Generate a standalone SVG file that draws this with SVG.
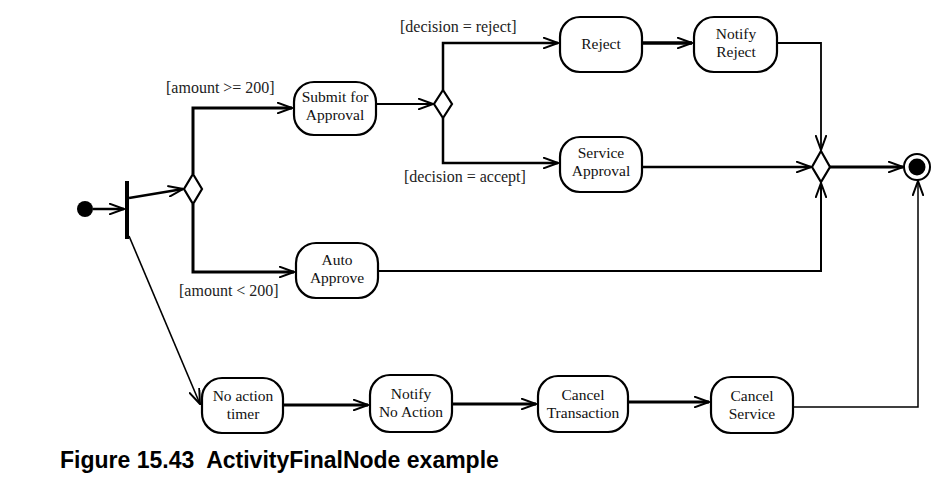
<svg xmlns="http://www.w3.org/2000/svg" width="948" height="486" viewBox="0 0 948 486">
<style>
.node{fill:#fff;stroke:#000;stroke-width:2.2}
.t{font-family:'Liberation Serif','Times New Roman','DejaVu Serif',serif;font-size:15.5px;text-anchor:middle;fill:#111}
.g{font-family:'Liberation Serif','Times New Roman','DejaVu Serif',serif;font-size:16px;fill:#222}
.e{fill:none;stroke:#000}
.cap{font-family:'Liberation Sans',Arial,sans-serif;font-size:23px;font-weight:bold;fill:#000}
</style>
<defs>
<marker id="a" viewBox="0 0 16 12" refX="15" refY="6" markerWidth="16" markerHeight="12" markerUnits="userSpaceOnUse" orient="auto">
<path d="M0,0.5 L15,6 L0,11.5" fill="none" stroke="#000" stroke-width="2"/>
</marker>
</defs>
<rect width="948" height="486" fill="#fff"/>
<g id="initial"><circle cx="85" cy="209" r="8" fill="#000"/></g>
<g id="fork"><rect x="125" y="181" width="4" height="58" fill="#000"/></g>
<g id="decision1"><polygon points="193,174 202,189 193,204 184,189" class="node" stroke-width="2"/></g>
<g id="submit"><rect x="294" y="82" width="82" height="53" rx="20" class="node"/><text class="t" x="335" y="102">Submit for</text><text class="t" x="335" y="120">Approval</text></g>
<g id="auto"><rect x="296" y="243" width="82" height="55" rx="20" class="node"/><text class="t" x="337" y="265">Auto</text><text class="t" x="337" y="283">Approve</text></g>
<g id="decision2"><polygon points="443,90 452,104 443,118 434,104" class="node" stroke-width="2"/></g>
<g id="reject"><rect x="560" y="17" width="82" height="55" rx="20" class="node"/><text class="t" x="601" y="49">Reject</text></g>
<g id="notifyReject"><rect x="694" y="17" width="83" height="55" rx="20" class="node"/><text class="t" x="736" y="39">Notify</text><text class="t" x="736" y="57">Reject</text></g>
<g id="serviceApproval"><rect x="560" y="137" width="82" height="55" rx="20" class="node"/><text class="t" x="601" y="158">Service</text><text class="t" x="601" y="176">Approval</text></g>
<g id="merge"><polygon points="821,151 830,167 821,182 812,167" class="node" stroke-width="2"/></g>
<g id="final"><circle cx="917" cy="167" r="13" fill="#fff" stroke="#000" stroke-width="2"/><circle cx="917" cy="167" r="8.5" fill="#000"/></g>
<g id="noActionTimer"><rect x="202" y="378" width="81" height="55" rx="20" class="node"/><text class="t" x="243" y="401">No action</text><text class="t" x="243" y="419">timer</text></g>
<g id="notifyNoAction"><rect x="370" y="375" width="82" height="57" rx="20" class="node"/><text class="t" x="411" y="399">Notify</text><text class="t" x="411" y="417">No Action</text></g>
<g id="cancelTransaction"><rect x="538" y="376" width="90" height="56" rx="20" class="node"/><text class="t" x="583" y="400">Cancel</text><text class="t" x="583" y="418">Transaction</text></g>
<g id="cancelService"><rect x="711" y="377" width="82" height="56" rx="20" class="node"/><text class="t" x="752" y="401">Cancel</text><text class="t" x="752" y="419">Service</text></g>
<g id="connectors">
<line class="e" x1="93" y1="209" x2="124" y2="209" stroke-width="2.5" marker-end="url(#a)"/>
<line class="e" x1="129" y1="198" x2="183" y2="189" stroke-width="2.5" marker-end="url(#a)"/>
<polyline class="e" points="193,174 193,108 292,108" stroke-width="3" marker-end="url(#a)"/>
<polyline class="e" points="193,204 193,272 294,272" stroke-width="3" marker-end="url(#a)"/>
<line class="e" x1="376" y1="104" x2="433" y2="104" stroke-width="2" marker-end="url(#a)"/>
<polyline class="e" points="443,90 443,43 558,43" stroke-width="2.5" marker-end="url(#a)"/>
<polyline class="e" points="443,118 443,163 558,163" stroke-width="2.5" marker-end="url(#a)"/>
<line class="e" x1="642" y1="43" x2="692" y2="43" stroke-width="3.5" marker-end="url(#a)"/>
<polyline class="e" points="778,43 821,43 821,150" stroke-width="1.8" marker-end="url(#a)"/>
<line class="e" x1="642" y1="167" x2="811" y2="167" stroke-width="2.5" marker-end="url(#a)"/>
<polyline class="e" points="378,271 821,271 821,183" stroke-width="2" marker-end="url(#a)"/>
<line class="e" x1="830" y1="167" x2="903" y2="167" stroke-width="3" marker-end="url(#a)"/>
<line class="e" x1="129" y1="236" x2="200" y2="404" stroke-width="1.6" marker-end="url(#a)"/>
<line class="e" x1="283" y1="405" x2="368" y2="405" stroke-width="3" marker-end="url(#a)"/>
<line class="e" x1="452" y1="404" x2="536" y2="404" stroke-width="3" marker-end="url(#a)"/>
<line class="e" x1="628" y1="402" x2="709" y2="402" stroke-width="3" marker-end="url(#a)"/>
<polyline class="e" points="793,407 918,407 918,181" stroke-width="1.5" marker-end="url(#a)"/>
</g>
<g id="labels">
<text class="g" x="166" y="93">[amount &gt;= 200]</text>
<text class="g" x="179" y="296">[amount &lt; 200]</text>
<text class="g" x="400" y="32">[decision = reject]</text>
<text class="g" x="404" y="182">[decision = accept]</text>
</g>
<text class="cap" x="60" y="468" xml:space="preserve">Figure 15.43  ActivityFinalNode example</text>
</svg>
